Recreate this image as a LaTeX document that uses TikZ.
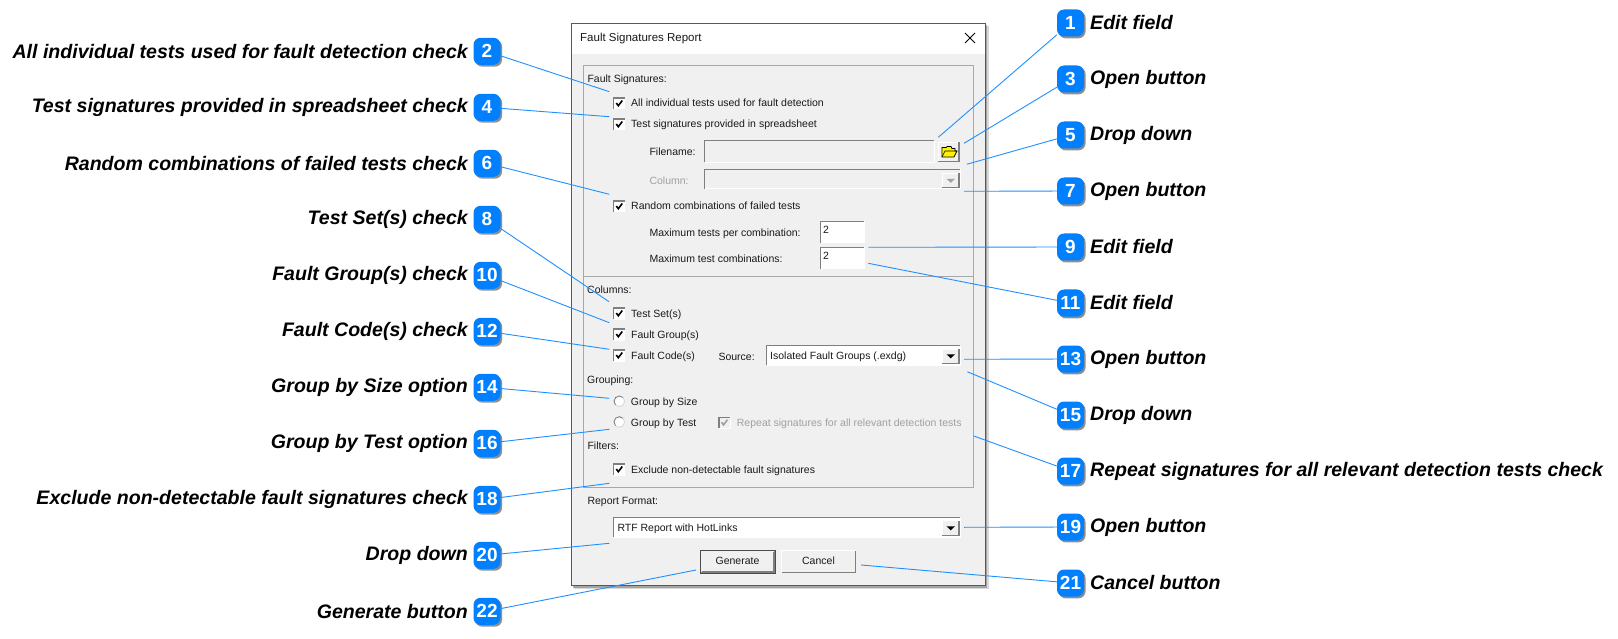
\documentclass[tikz,border=0pt]{standalone}
\usepackage{fontspec}
\setmainfont{Liberation Sans}
\usetikzlibrary{shadows}
\definecolor{bub}{HTML}{0080FF}
\definecolor{lnk}{HTML}{2090FF}
\definecolor{dlg}{HTML}{F0F0F0}
\definecolor{edge}{HTML}{7F7F7F}
\definecolor{groupline}{HTML}{A8A8A8}
\definecolor{dis}{HTML}{A0A0A0}
\tikzset{
  x=1pt,y=-1pt,
  bubble/.style={fill=bub,rounded corners=7pt,minimum width=27pt,minimum height=27pt,inner sep=0pt,
    text=white,font=\fontsize{19}{19}\bfseries\selectfont,
    drop shadow={shadow xshift=1.6pt,shadow yshift=-1.8pt,opacity=.55,fill=black!80}},
  callL/.style={anchor=east,inner sep=0pt,font=\fontsize{19.55}{22}\bfseries\itshape\selectfont},
  callR/.style={anchor=west,inner sep=0pt,font=\fontsize{19.55}{22}\bfseries\itshape\selectfont},
  link/.style={draw=lnk,line width=.9pt},
  ui/.style={anchor=west,inner sep=0pt,text height=8pt,text depth=1pt,font=\fontsize{10.5}{12}\selectfont,text=black!90},
  uigray/.style={ui,text=dis},
}
% sunken frame
\newcommand{\sunk}[5]{\fill[#5] (#1,#2) rectangle (#3,#4);
  \draw[white,line width=1pt] (#3,#2) -- (#3,#4) -- (#1,#4);
  \draw[edge,line width=1.1pt] (#1,#4) -- (#1,#2) -- (#3,#2);}
% raised frame
\newcommand{\rais}[4]{\fill[dlg] (#1,#2) rectangle (#3,#4);
  \draw[white,line width=1pt] (#1,#4) -- (#1,#2) -- (#3,#2);
  \draw[edge,line width=1.2pt] (#1,#4) -- (#3,#4) -- (#3,#2);}
% check box at centre
\newcommand{\chk}[3][black]{\begin{scope}[shift={(#2,#3)}]
  \sunk{-5.5}{-5.5}{5.5}{5.5}{white}
  \draw[#1,line width=1.6pt] (-3,-.5) -- (-1,2.2) -- (3,-3);
  \end{scope}}
% drop arrow button
\newcommand{\arrowbtn}[4]{\rais{942.3}{#1}{959}{#2}
  \fill[#4] (946.5,#3-1.7) -- (955,#3-1.7) -- (950.7,#3+2.3) -- cycle;}
\newcommand{\radiobtn}[2]{\fill[white] (#1,#2) circle (5.3);
  \draw[edge,line width=.9pt] (#1+3.75,#2-3.75) arc (-45:-225:5.3);
  \draw[black!15,line width=.9pt] (#1-3.75,#2+3.75) arc (135:-45:5.3);}
\begin{document}
\begin{tikzpicture}
\useasboundingbox (0,0) rectangle (1618,639);
\fill[white] (0,0) rectangle (1618,639);
% dialog
\fill[black!60,opacity=.25] (574,26) rectangle (988.5,589);
\fill[black!60,opacity=.45] (573,25) rectangle (987,587.5);
\fill[dlg] (571.5,23.5) rectangle (985,585.5);
\fill[white] (571.5,23.5) rectangle (985,54);
\draw[black!65,line width=1pt] (571.5,23.5) rectangle (985,585.5);
\draw[black,line width=.8pt] (965,33) -- (975,43) (975,33) -- (965,43);
\node[ui,font=\fontsize{11.5}{12}\selectfont] (title) at (580,38.5) {Fault Signatures Report};
% group box
\draw[groupline,line width=1pt] (583.3,65.7) rectangle (973.4,487.3);
\draw[groupline,line width=1pt] (583.3,276.5) -- (973.4,276.5);
\node[ui] (hsig) at (587.3,79) {Fault Signatures:};
\chk{619.3}{103.5}
\node[ui] (t1) at (631,103.5) {All individual tests used for fault detection};
\chk{619.3}{124.5}
\node[ui] (t2) at (631,124.5) {Test signatures provided in spreadsheet};
\node[ui] (lfile) at (649.3,151.7) {Filename:};
\sunk{704.7}{140.7}{934.3}{162.3}{dlg}
\rais{938.3}{142.3}{959}{161.7}
\fill[yellow,draw=black,line width=.7pt] (942,157) -- (942,147.5) -- (946,147.5) -- (947,146.5) -- (951,146.5) -- (952,148.5) -- (955,148.5) -- (955,151) -- (957,151) -- (954,157) -- cycle;
\draw[black,line width=.6pt] (942,157) -- (945,151) -- (957,151);
\node[uigray] (lcol) at (649.3,181) {Column:};
\sunk{704.7}{169.3}{960}{189}{dlg}
\arrowbtn{173.3}{187.7}{180.5}{dis}
\chk{619.3}{206.5}
\node[ui] (t3) at (631,206.5) {Random combinations of failed tests};
\node[ui] (lmaxa) at (649.3,232.7) {Maximum tests per combination:};
\sunk{820.3}{221.3}{864}{242.7}{white}
\node[ui] (va) at (823,230.5) {2};
\node[ui] (lmaxb) at (649.3,258.7) {Maximum test combinations:};
\sunk{820.3}{247.3}{864}{269}{white}
\node[ui] (vb) at (823,256.5) {2};
\node[ui] (hcol) at (587,290) {Columns:};
\chk{619.3}{313.5}
\node[ui] (t4) at (631,313.5) {Test Set(s)};
\chk{619.3}{334.5}
\node[ui] (t5) at (631,334.5) {Fault Group(s)};
\chk{619.3}{355.5}
\node[ui] (t6) at (631,355.5) {Fault Code(s)};
\node[ui] (lsrc) at (718.3,356.7) {Source:};
\sunk{766.7}{345.7}{960}{365}{white}
\node[ui] (vsrc) at (770,356) {Isolated Fault Groups (.exdg)};
\arrowbtn{349}{363.3}{356}{black}
\node[ui] (hgrp) at (587,380) {Grouping:};
\radiobtn{619.3}{401.3}
\node[ui] (t7) at (630.7,401.5) {Group by Size};
\radiobtn{619.3}{422}
\node[ui] (t8) at (630.7,422.5) {Group by Test};
\begin{scope}[shift={(724.5,422.7)}]
\sunk{-5.5}{-5.5}{5.5}{5.5}{dlg}
\draw[dis,line width=1.6pt] (-3,-.5) -- (-1,2.2) -- (3,-3);
\end{scope}
\node[uigray] (t9) at (736.7,422.7) {Repeat signatures for all relevant detection tests};
\node[ui] (hfil) at (587.3,445.7) {Filters:};
\chk{619.3}{469.5}
\node[ui] (t10) at (631,469.5) {Exclude non-detectable fault signatures};
\node[ui] (hrep) at (587.3,501) {Report Format:};
\sunk{613.3}{517.7}{960}{537.3}{white}
\node[ui] (vrep) at (617.3,527.7) {RTF Report with HotLinks};
\arrowbtn{520.7}{535.7}{528}{black}
% buttons
\rais{700.5}{550.5}{775}{572.5}
\draw[black!70,line width=1pt] (700,550) rectangle (775.5,573);
\draw[edge,line width=1.2pt] (701.5,571.3) -- (774,571.3) -- (774,551.5);
\node[ui,anchor=center] (gen) at (737.5,560.7) {Generate};
\rais{781.5}{550.5}{855.5}{572.5}
\node[ui,anchor=center] (can) at (818.5,560.7) {Cancel};
% bubbles and callouts
\foreach \n/\y/\txt in {2/51.3/All individual tests used for fault detection check,
  4/107.3/Test signatures provided in spreadsheet check,
  6/163.3/Random combinations of failed tests check,
  8/219.3/Test Set(s) check,
  10/275.3/Fault Group(s) check,
  12/331.3/Fault Code(s) check,
  14/387.3/Group by Size option,
  16/443.3/Group by Test option,
  18/499.3/Exclude non-detectable fault signatures check,
  20/555.3/Drop down,
  22/611.3/Generate button}{
  \node[bubble] (b\n) at (487,\y) {\n};
  \node[callL] (c\n) at (468,\y) {\txt};
}
\foreach \n/\y/\txt in {1/23/Edit field,3/79/Open button,5/135/Drop down,7/191/Open button,
  9/247/Edit field,11/303/Edit field,13/359/Open button,15/415/Drop down,
  17/471/Repeat signatures for all relevant detection tests check,19/527/Open button,21/583/Cancel button}{
  \node[bubble] (b\n) at (1070.5,\y) {\n};
  \node[callR] (c\n) at (1090,\y) {\txt};
}
% connector ends
\coordinate (e1) at (938.3,137.3);
\coordinate (e2) at (609.3,91.7);
\coordinate (e3) at (964,143.3);
\coordinate (e4) at (609.3,116.7);
\coordinate (e5) at (966.7,164.3);
\coordinate (e6) at (609.3,194.3);
\coordinate (e7) at (964,191.3);
\coordinate (e8) at (609,301.7);
\coordinate (e9) at (868.3,247.3);
\coordinate (e10) at (609.3,322.7);
\coordinate (e11) at (868.3,263.3);
\coordinate (e12) at (609.3,349.3);
\coordinate (e13) at (964,359.3);
\coordinate (e14) at (609.3,398.3);
\coordinate (e15) at (967.3,371.7);
\coordinate (e16) at (609.3,429.3);
\coordinate (e17) at (973.8,436);
\coordinate (e18) at (609.3,483.3);
\coordinate (e19) at (964,527.3);
\coordinate (e20) at (609.3,543.3);
\coordinate (e21) at (861,565);
\coordinate (e22) at (696,570);
\foreach \n in {1,...,22}{\draw[link] (b\n) -- (e\n);}
\end{tikzpicture}
\end{document}
